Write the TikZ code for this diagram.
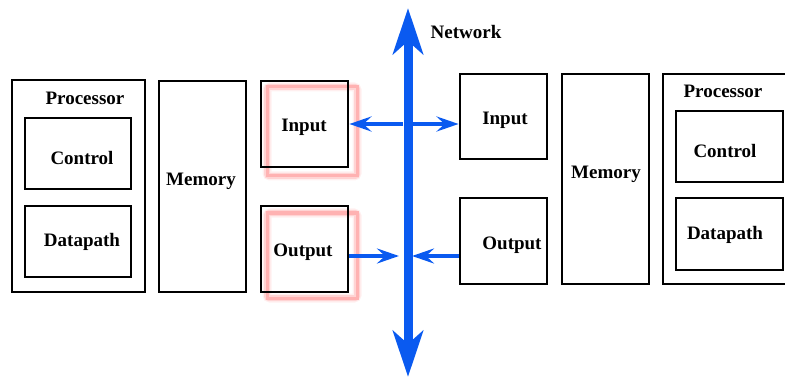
\documentclass[tikz,border=0pt]{standalone}
\usepackage{fontspec}
\setmainfont{Liberation Serif}
\usetikzlibrary{arrows.meta}
\definecolor{busblue}{RGB}{10,90,240}
\definecolor{glowpink}{RGB}{255,150,150}
\tikzset{
  blk/.style={draw=black, line width=2.8pt, inner sep=0pt, fill=white},
  lbl/.style={font=\fontsize{19}{22}\selectfont\bfseries, inner sep=0pt},
  bus/.style={draw=busblue, line width=9pt, -{Stealth[length=46pt,width=30pt,inset=13pt]}},
  link/.style={draw=busblue, line width=3.5pt, -{Stealth[length=22pt,width=15pt,inset=8pt]}},
}
\newcommand{\glowrect}[2]{%
  \draw[glowpink, line width=9pt, opacity=0.15, rounded corners=3pt] #1 rectangle #2;
  \draw[glowpink, line width=6pt, opacity=0.3, rounded corners=2pt] #1 rectangle #2;
  \draw[glowpink, line width=3pt, opacity=0.55] #1 rectangle #2;
}
\begin{document}
\begin{tikzpicture}[x=1pt,y=-1pt]
\useasboundingbox (0,0) rectangle (785,377);
\clip (0,0) rectangle (785,377);
% left side
\node[blk, minimum width=133pt, minimum height=212pt] (lproc) at (78.5,186) {};
\node[lbl] (lproct) at (85,98) {Processor};
\node[blk, minimum width=106pt, minimum height=71pt] (lctrl) at (78,153.5) {};
\node[lbl] at (82,158) {Control};
\node[blk, minimum width=106pt, minimum height=71pt] (ldata) at (78,241.5) {};
\node[lbl] at (82,242) {Datapath};
\node[blk, minimum width=87pt, minimum height=211pt] (lmem) at (202.5,186.5) {};
\node[lbl] at (201,181) {Memory};
% glows
\glowrect{(267,87)}{(357,176)}
\glowrect{(267,213)}{(357,298)}
\node[blk, fill=none, minimum width=87pt, minimum height=86pt] (lin) at (304.5,124) {};
\node[lbl] at (304,127) {Input};
\node[blk, fill=none, minimum width=87pt, minimum height=86pt] (lout) at (304.5,249) {};
\node[lbl] at (303,252) {Output};
% right side
\node[blk, minimum width=87pt, minimum height=85pt] (rin) at (503.5,116.5) {};
\node[lbl] at (505,120) {Input};
\node[blk, minimum width=87pt, minimum height=86pt] (rout) at (503.5,241) {};
\node[lbl] at (512,245) {Output};
\node[blk, minimum width=87pt, minimum height=210pt] (rmem) at (605.5,179) {};
\node[lbl] at (606,174) {Memory};
\node[blk, minimum width=133pt, minimum height=210pt] (rproc) at (729.5,179) {};
\node[lbl] at (723,91) {Processor};
\node[blk, minimum width=107pt, minimum height=71pt] (rctrl) at (729.5,146.5) {};
\node[lbl] at (725,151) {Control};
\node[blk, minimum width=107pt, minimum height=72pt] (rdata) at (729.5,234) {};
\node[lbl] at (725,235) {Datapath};
% network bus
\coordinate (bmid) at (408,190);
\coordinate (btop) at (408,8);
\coordinate (bbot) at (408,377);
\draw[bus] (bmid) -- (btop);
\draw[bus] (bmid) -- (bbot);
\node[lbl] (net) at (466,32) {Network};
% links
\coordinate (ilB) at (403,124);
\coordinate (irB) at (413,124);
\coordinate (olB) at (399,256);
\coordinate (orB) at (412,256);
\draw[link] (ilB) -- (lin.east |- ilB);
\draw[link] (irB) -- (rin.west |- irB);
\draw[link] (lout.east |- olB) -- (olB);
\draw[link] (rout.west |- orB) -- (orB);
\end{tikzpicture}
\end{document}
